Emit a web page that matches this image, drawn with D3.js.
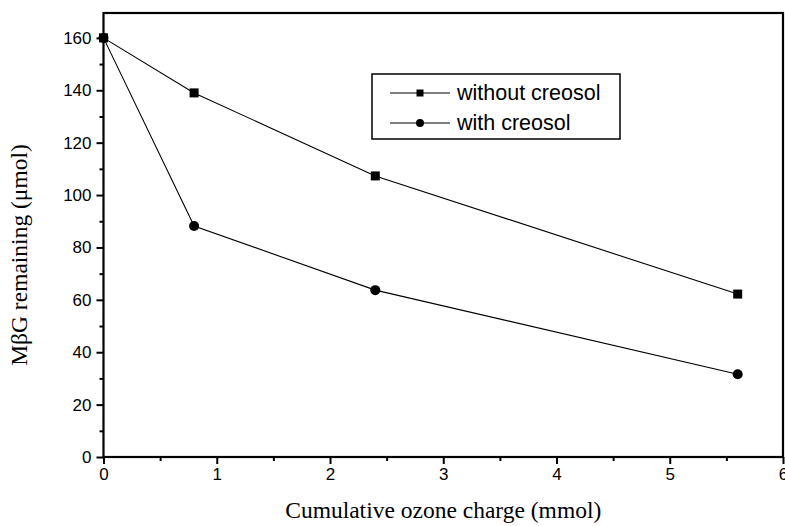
<!DOCTYPE html>
<html>
<head>
<meta charset="utf-8">
<script src="https://cdn.jsdelivr.net/npm/d3@7.9.0/dist/d3.min.js"></script>
<style>
  body { margin: 0; background: #fff; }
  svg { display: block; }
  .tick text { font-family: "Liberation Sans", Arial, sans-serif; font-size: 17px; fill: #000; }
</style>
</head>
<body>
<svg id="chart" width="785" height="526"></svg>
<script>
// ozone charge (mmol)
const ozone = [0, 0.8, 2.4, 5.6];
// MbG remaining (umol)
const withoutCreosol = [160, 139, 107.3, 62.2];
const withCreosol = [160, 88.2, 63.7, 31.6];
const xTicks = [0, 1, 2, 3, 4, 5, 6];
const yTicks = [0, 20, 40, 60, 80, 100, 120, 140, 160];

const width = 785, height = 526;
const margin = { top: 13, right: 2, bottom: 69, left: 103.5 };

const svg = d3.select('#chart');

let x = d3.scaleLinear().domain([0, 6]).range([margin.left, width - margin.right]);
let y = d3.scaleLinear().domain([0, 169.5]).range([height - margin.bottom, margin.top]);

// minor ticks
svg.append('g')
  .attr('transform', `translate(0,${y(0)})`)
  .call(d3.axisBottom(x).tickValues(d3.range(0.5, 6, 1)).tickSize(4).tickFormat(''))
  .call(g => g.select('.domain').remove())
  .selectAll('line').attr('stroke', '#000').attr('stroke-width', 2);

svg.append('g')
  .attr('transform', `translate(${x(0)},0)`)
  .call(d3.axisLeft(y).tickValues(d3.range(10, 170, 20)).tickSize(4).tickFormat(''))
  .call(g => g.select('.domain').remove())
  .selectAll('line').attr('stroke', '#000').attr('stroke-width', 2);

// major ticks
let xAxis = svg.append('g')
  .attr('transform', `translate(0,${y(0)})`)
  .call(d3.axisBottom(x).tickValues(xTicks).tickSize(7).tickPadding(4).tickFormat(d3.format('d')));
xAxis.select('.domain').remove();
xAxis.selectAll('line').attr('stroke', '#000').attr('stroke-width', 2);

let yAxis = svg.append('g')
  .attr('transform', `translate(${x(0)},0)`)
  .call(d3.axisLeft(y).tickValues(yTicks).tickSize(7).tickPadding(5));
yAxis.select('.domain').remove();
yAxis.selectAll('line').attr('stroke', '#000').attr('stroke-width', 2);

// frame
svg.append('rect')
  .attr('x', x(0)).attr('y', margin.top)
  .attr('width', x(6) - x(0)).attr('height', y(0) - margin.top)
  .attr('fill', 'none').attr('stroke', '#000').attr('stroke-width', 2.2);

// series
let line = d3.line().x((d, i) => x(ozone[i])).y(d => y(d));

svg.append('path').attr('d', line(withoutCreosol))
  .attr('fill', 'none').attr('stroke', '#000').attr('stroke-width', 1.1);
svg.append('path').attr('d', line(withCreosol))
  .attr('fill', 'none').attr('stroke', '#000').attr('stroke-width', 1.1);

withoutCreosol.forEach((v, i) => {
  svg.append('rect')
    .attr('x', x(ozone[i]) - 4.5).attr('y', y(v) - 4.5)
    .attr('width', 9).attr('height', 9).attr('fill', '#000');
});
withCreosol.forEach((v, i) => {
  svg.append('circle')
    .attr('cx', x(ozone[i])).attr('cy', y(v)).attr('r', 5).attr('fill', '#000');
});

// legend
let legend = svg.append('g');
legend.append('rect')
  .attr('x', 372).attr('y', 74).attr('width', 248).attr('height', 65)
  .attr('fill', '#fff').attr('stroke', '#000').attr('stroke-width', 1.5);

let legendItems = [
  { label: 'without creosol', shape: 'square' },
  { label: 'with creosol', shape: 'circle' },
];
legendItems.forEach((d, idx) => {
  let cy = 93 + idx * 30;
  legend.append('line').attr('x1', 390).attr('x2', 450).attr('y1', cy).attr('y2', cy)
    .attr('stroke', '#000').attr('stroke-width', 1);
  if (d.shape === 'square') {
    legend.append('rect').attr('x', 416.5).attr('y', cy - 3.5).attr('width', 7).attr('height', 7).attr('fill', '#000');
  } else {
    legend.append('circle').attr('cx', 420).attr('cy', cy).attr('r', 4).attr('fill', '#000');
  }
  legend.append('text')
    .attr('x', 457).attr('y', cy + 7)
    .attr('font-family', '"Liberation Sans", Arial, sans-serif')
    .attr('font-size', 21.5)
    .text(d.label);
});

// axis titles
svg.append('text')
  .attr('x', (x(0) + x(6)) / 2).attr('y', 518)
  .attr('text-anchor', 'middle')
  .attr('font-family', '"Liberation Serif", "Times New Roman", serif')
  .attr('font-size', 23.5)
  .text('Cumulative ozone charge (mmol)');

svg.append('text')
  .attr('transform', `translate(27,255) rotate(-90)`)
  .attr('text-anchor', 'middle')
  .attr('font-family', '"Liberation Serif", "Times New Roman", serif')
  .attr('font-size', 23.5)
  .text('MβG remaining (μmol)');
</script>
</body>
</html>
